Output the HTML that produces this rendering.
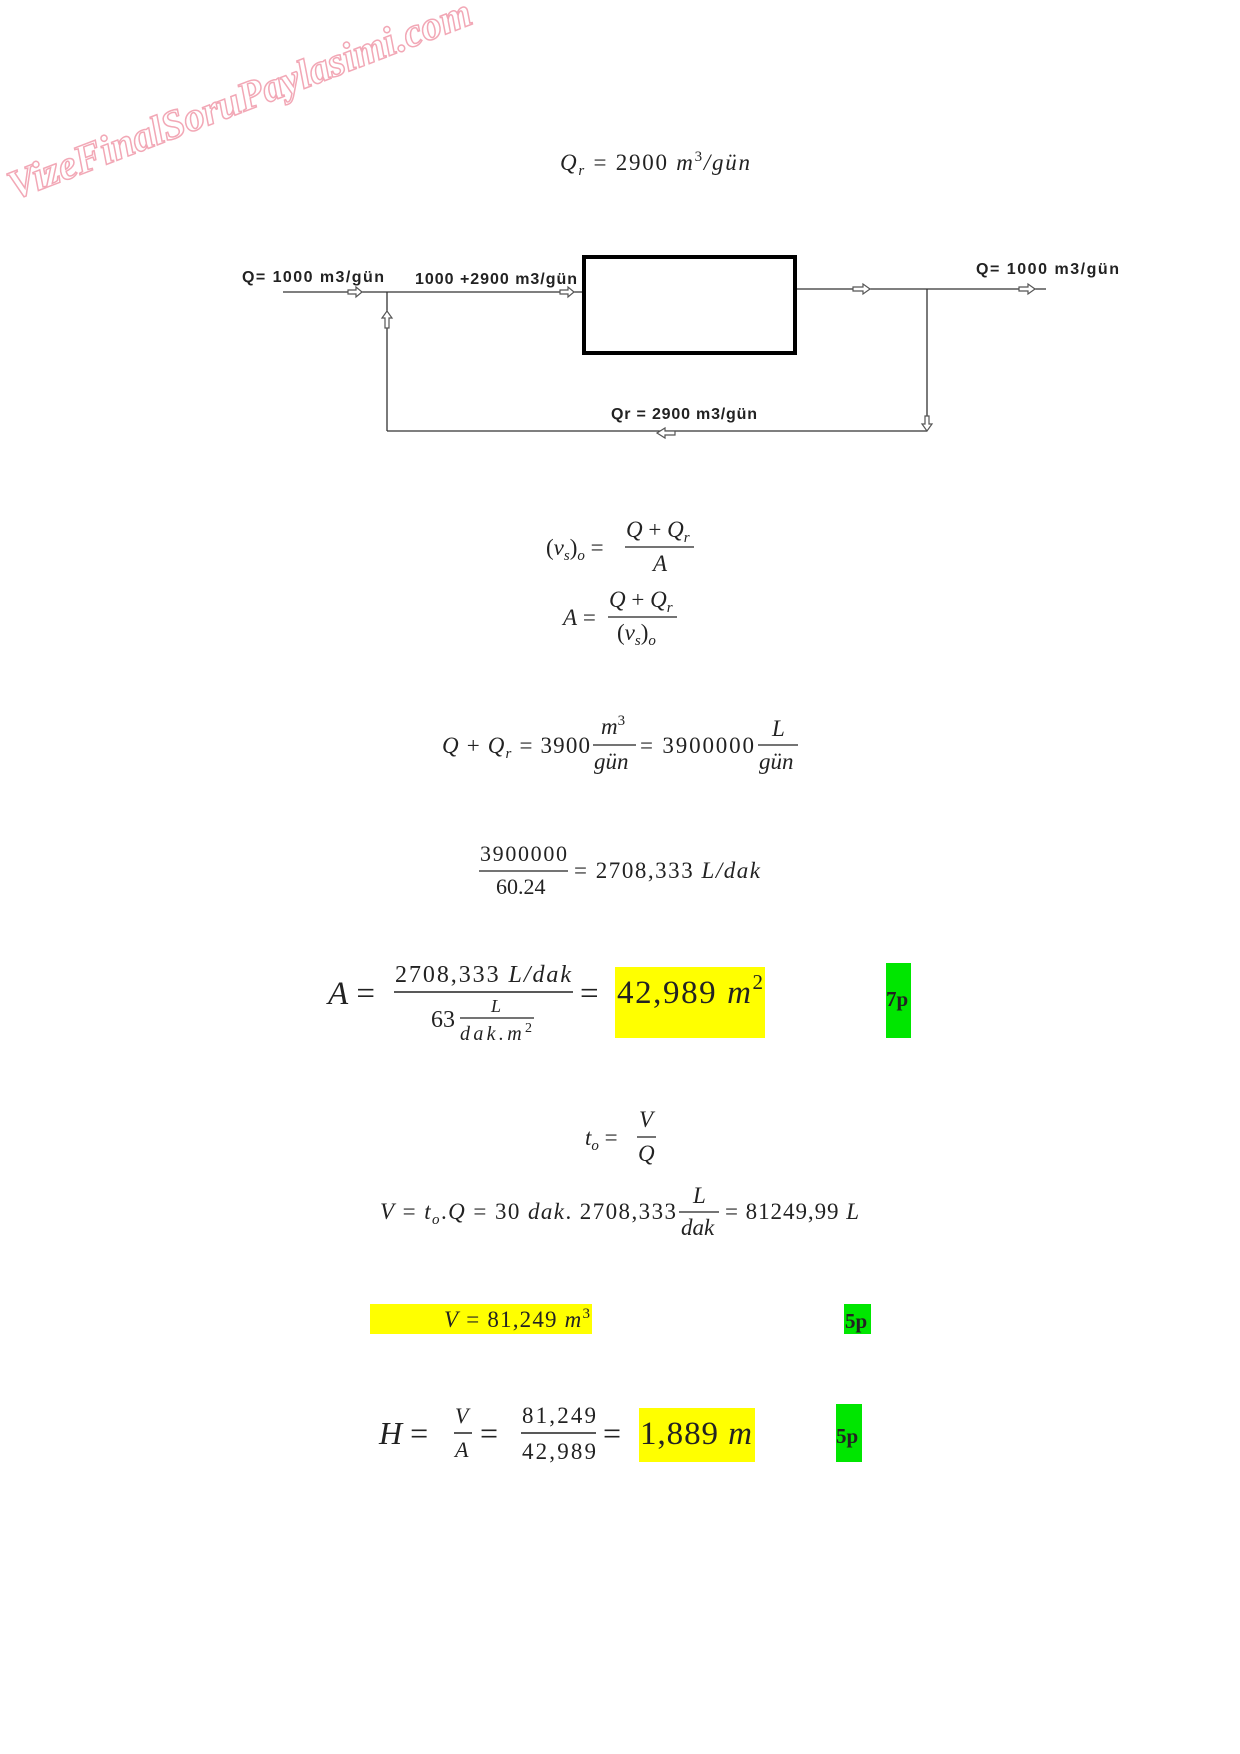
<!DOCTYPE html>
<html><head><meta charset="utf-8"><style>
html,body{margin:0;padding:0;background:#fff;}
svg{display:block;}
.m{font-family:"Liberation Serif",serif;fill:#222;}
.i{font-style:italic;}
.b{font-family:"Liberation Sans",sans-serif;font-weight:bold;fill:#222;font-size:16px;}
.g{font-family:"Liberation Serif",serif;font-weight:bold;fill:#222;font-size:21px;}
</style></head><body>
<svg width="1240" height="1754" viewBox="0 0 1240 1754" xmlns="http://www.w3.org/2000/svg">
<rect width="1240" height="1754" fill="#fff"/>
<!-- watermark -->
<text x="14" y="200" transform="rotate(-21 14 200)" font-family="Liberation Serif,serif" font-weight="bold" font-style="italic" font-size="41" fill="none" stroke="#f2a8b6" stroke-width="1.5">VizeFinalSoruPaylasimi.com</text>

<!-- title -->
<text class="m" x="560" y="170" font-size="23" textLength="190"><tspan class="i">Q</tspan><tspan class="i" font-size="15" dy="5">r</tspan><tspan dy="-5"> = 2900 </tspan><tspan class="i">m</tspan><tspan font-size="15" dy="-9">3</tspan><tspan dy="9" class="i">/gün</tspan></text>

<!-- diagram -->
<rect x="584" y="257" width="211" height="96" fill="none" stroke="#000" stroke-width="4"/>
<g stroke="#333" stroke-width="1.3" fill="none">
<line x1="283" y1="292" x2="582" y2="292"/>
<line x1="797" y1="289" x2="1046" y2="289"/>
<line x1="387" y1="292" x2="387" y2="431"/>
<line x1="927" y1="289" x2="927" y2="431"/>
<line x1="387" y1="431" x2="927" y2="431"/>
</g>
<g stroke="#555" stroke-width="1.2" fill="#fff">
<path d="M348 290 h8 v-3 l6 5 -6 5 v-3 h-8z"/>
<path d="M560 290 h8 v-3 l6 5 -6 5 v-3 h-8z"/>
<path d="M853 287 h10 v-3 l7 5 -7 5 v-3 h-10z"/>
<path d="M1019 287 h9 v-3 l7 5 -7 5 v-3 h-9z"/>
<path d="M385 328 v-10 h-3 l5 -7 5 7 h-3 v10z"/>
<path d="M925 416 v8 h-3 l5 7 5 -7 h-3 v-8z"/>
<path d="M675 431 h-10 v-3 l-8 5 8 5 v-3 h10z"/>
</g>
<text class="b" x="242" y="282" textLength="142">Q= 1000  m3/gün</text>
<text class="b" x="415" y="284" textLength="162">1000 +2900 m3/gün</text>
<text class="b" x="976" y="274" textLength="143">Q= 1000  m3/gün</text>
<text class="b" x="611" y="419" textLength="146">Qr = 2900 m3/gün</text>

<!-- eq1 -->
<text class="m" x="546" y="555" font-size="23"><tspan>(</tspan><tspan class="i">v</tspan><tspan class="i" font-size="15" dy="5">s</tspan><tspan dy="-5">)</tspan><tspan class="i" font-size="15" dy="5">o</tspan><tspan dy="-5"> =</tspan></text>
<line x1="625" y1="547" x2="694" y2="547" stroke="#222" stroke-width="1.3"/>
<text class="m" x="626" y="537" font-size="23"><tspan class="i">Q</tspan> + <tspan class="i">Q</tspan><tspan class="i" font-size="15" dy="5">r</tspan></text>
<text class="m i" x="653" y="571" font-size="23">A</text>
<!-- eq2 -->
<text class="m" x="563" y="625" font-size="23"><tspan class="i">A</tspan> =</text>
<line x1="608" y1="617" x2="677" y2="617" stroke="#222" stroke-width="1.3"/>
<text class="m" x="609" y="607" font-size="23"><tspan class="i">Q</tspan> + <tspan class="i">Q</tspan><tspan class="i" font-size="15" dy="5">r</tspan></text>
<text class="m" x="617" y="640" font-size="23"><tspan>(</tspan><tspan class="i">v</tspan><tspan class="i" font-size="15" dy="5">s</tspan><tspan dy="-5">)</tspan><tspan class="i" font-size="15" dy="5">o</tspan></text>

<!-- eq3 -->
<text class="m" x="442" y="753" font-size="23" textLength="148"><tspan class="i">Q</tspan> + <tspan class="i">Q</tspan><tspan class="i" font-size="15" dy="5">r</tspan><tspan dy="-5"> = 3900</tspan></text>
<line x1="593" y1="745" x2="636" y2="745" stroke="#222" stroke-width="1.3"/>
<text class="m" x="601" y="734" font-size="23"><tspan class="i">m</tspan><tspan font-size="15" dy="-9">3</tspan></text>
<text class="m i" x="594" y="769" font-size="23">gün</text>
<text class="m" x="640" y="753" font-size="23" textLength="114">= 3900000</text>
<line x1="758" y1="745" x2="798" y2="745" stroke="#222" stroke-width="1.3"/>
<text class="m i" x="772" y="736" font-size="23">L</text>
<text class="m i" x="759" y="769" font-size="23">gün</text>

<!-- eq4 -->
<line x1="479" y1="871" x2="568" y2="871" stroke="#222" stroke-width="1.3"/>
<text class="m" x="480" y="861" font-size="22" textLength="87">3900000</text>
<text class="m" x="496" y="894" font-size="22">60.24</text>
<text class="m" x="574" y="878" font-size="23" textLength="186">= 2708,333 <tspan class="i">L/dak</tspan></text>

<!-- eq5 -->
<rect x="615" y="967" width="150" height="71" fill="#ffff00"/>
<rect x="886" y="963" width="25" height="75" fill="#00e600"/>
<text class="m" x="328" y="1004" font-size="33"><tspan class="i">A</tspan> =</text>
<line x1="394" y1="992" x2="573" y2="992" stroke="#222" stroke-width="1.5"/>
<text class="m" x="395" y="982" font-size="24" textLength="176">2708,333 <tspan class="i">L/dak</tspan></text>
<text class="m" x="431" y="1027" font-size="24">63</text>
<line x1="460" y1="1018" x2="534" y2="1018" stroke="#222" stroke-width="1.2"/>
<text class="m i" x="491" y="1012" font-size="18">L</text>
<text class="m i" x="460" y="1040" font-size="20" textLength="72">dak.m<tspan font-style="normal" font-size="14" dy="-8">2</tspan></text>
<text class="m" x="580" y="1004" font-size="33">=</text>
<text class="m" x="617" y="1003" font-size="33" textLength="146">42,989 <tspan class="i">m</tspan><tspan font-size="21" dy="-14">2</tspan></text>
<text class="g" x="886" y="1006">7p</text>

<!-- eq6 -->
<text class="m" x="585" y="1145" font-size="23"><tspan class="i">t</tspan><tspan class="i" font-size="15" dy="5">o</tspan><tspan dy="-5"> =</tspan></text>
<line x1="637" y1="1137" x2="656" y2="1137" stroke="#222" stroke-width="1.3"/>
<text class="m i" x="639" y="1127" font-size="23">V</text>
<text class="m i" x="638" y="1161" font-size="23">Q</text>

<!-- eq7 -->
<text class="m" x="380" y="1219" font-size="23" textLength="296"><tspan class="i">V</tspan> =  <tspan class="i">t</tspan><tspan class="i" font-size="15" dy="5">o</tspan><tspan dy="-5">.</tspan><tspan class="i">Q</tspan> = 30 <tspan class="i">dak</tspan>. 2708,333</text>
<line x1="679" y1="1212" x2="719" y2="1212" stroke="#222" stroke-width="1.3"/>
<text class="m i" x="693" y="1203" font-size="23">L</text>
<text class="m i" x="681" y="1235" font-size="23">dak</text>
<text class="m" x="725" y="1219" font-size="23" textLength="134">= 81249,99 <tspan class="i">L</tspan></text>

<!-- eq8 -->
<rect x="370" y="1304" width="222" height="30" fill="#ffff00"/>
<rect x="844" y="1304" width="27" height="30" fill="#00e600"/>
<text class="m" x="444" y="1327" font-size="23" textLength="146"><tspan class="i">V</tspan> = 81,249 <tspan class="i">m</tspan><tspan font-size="15" dy="-9">3</tspan></text>
<text class="g" x="845" y="1328">5p</text>

<!-- eq9 -->
<rect x="639" y="1408" width="116" height="54" fill="#ffff00"/>
<rect x="836" y="1404" width="26" height="58" fill="#00e600"/>
<text class="m" x="379" y="1444" font-size="32"><tspan class="i">H</tspan> =</text>
<line x1="454" y1="1433" x2="472" y2="1433" stroke="#222" stroke-width="1.4"/>
<text class="m i" x="455" y="1423" font-size="22">V</text>
<text class="m i" x="455" y="1457" font-size="22">A</text>
<text class="m" x="480" y="1444" font-size="32">=</text>
<line x1="521" y1="1433" x2="596" y2="1433" stroke="#222" stroke-width="1.4"/>
<text class="m" x="522" y="1423" font-size="23" textLength="74">81,249</text>
<text class="m" x="522" y="1459" font-size="23" textLength="74">42,989</text>
<text class="m" x="603" y="1444" font-size="32">=</text>
<text class="m" x="640" y="1444" font-size="33" textLength="112">1,889 <tspan class="i">m</tspan></text>
<text class="g" x="836" y="1443">5p</text>
</svg>
</body></html>
